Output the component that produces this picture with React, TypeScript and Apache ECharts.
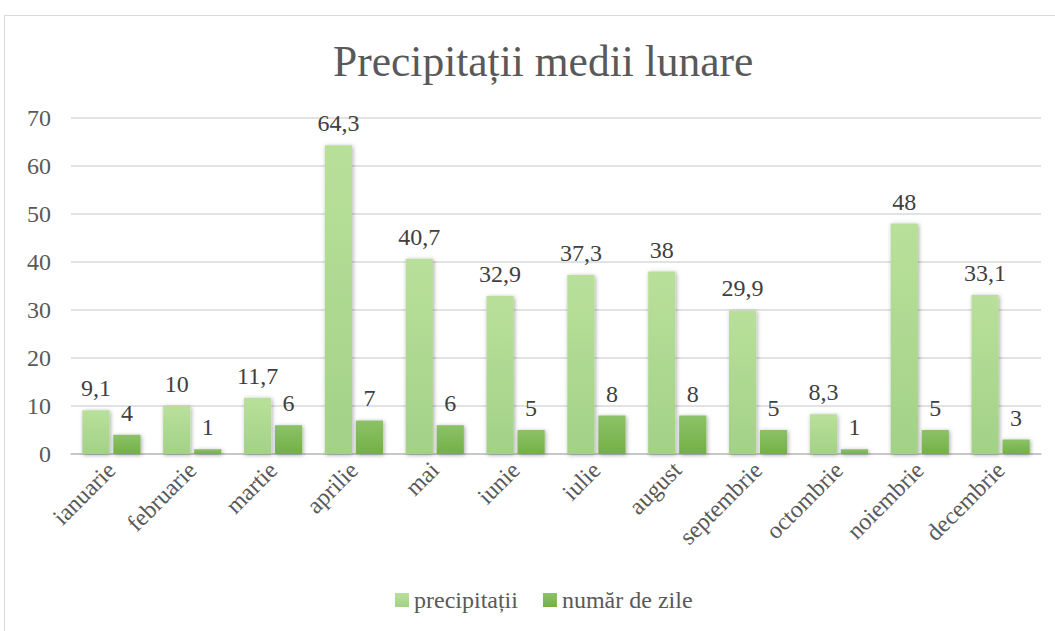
import React, { useEffect, useRef } from "react";
import * as echarts from "echarts";

const categories = ["ianuarie", "februarie", "martie", "aprilie", "mai", "iunie", "iulie", "august", "septembrie", "octombrie", "noiembrie", "decembrie"];
const precipitatii = [9.1, 10, 11.7, 64.3, 40.7, 32.9, 37.3, 38, 29.9, 8.3, 48, 33.1];
const numarZile = [4, 1, 6, 7, 6, 5, 8, 8, 5, 1, 5, 3];

const fmt = (v: number) => String(v).replace(".", ",");

export default function App() {
  const ref = useRef<HTMLDivElement>(null);
  useEffect(() => {
    const chart = echarts.init(ref.current!, null, { renderer: "svg" });
    const font = "Liberation Serif";
    const shadow = { shadowColor: "rgba(0,0,0,0.35)", shadowBlur: 4, shadowOffsetX: 1, shadowOffsetY: 1 };
    const labelStyle = { show: true, position: "top", distance: 10, fontFamily: font, fontSize: 24, color: "#404040", formatter: (p: any) => fmt(p.value) };
    chart.setOption({
      animation: false,
      backgroundColor: "#ffffff",
      textStyle: { fontFamily: font },
      graphic: [
        { type: "rect", shape: { x: 4.5, y: 15.5, width: 1100, height: 700 }, style: { fill: "none", stroke: "#d9d9d9", lineWidth: 1 } },
      ],
      title: {
        text: "Precipitații medii lunare",
        left: 328,
        top: 34,
        textStyle: { fontFamily: font, fontSize: 43.5, fontWeight: "normal", color: "#595959" },
      },
      legend: {
        bottom: 14,
        left: 390,
        itemWidth: 14,
        itemHeight: 14,
        itemGap: 25,
        icon: "rect",
        textStyle: { fontFamily: font, fontSize: 24, color: "#595959" },
      },
      grid: { left: 71, right: 14, top: 118, bottom: 177 },
      xAxis: {
        type: "category",
        data: categories,
        axisTick: { show: false },
        axisLine: { lineStyle: { color: "#bfbfbf", width: 1.5 } },
        axisLabel: { rotate: 45, fontFamily: font, fontSize: 24, color: "#595959", margin: 12 },
      },
      yAxis: {
        type: "value",
        min: 0,
        max: 70,
        interval: 10,
        axisLine: { show: false },
        axisTick: { show: false },
        axisLabel: { fontFamily: font, fontSize: 24, color: "#595959", margin: 20 },
        splitLine: { lineStyle: { color: "#d9d9d9", width: 1.5 } },
      },
      series: [
        {
          name: "precipitații",
          type: "bar",
          data: precipitatii,
          barGap: "14%",
          barCategoryGap: "28%",
          itemStyle: {
            color: new echarts.graphic.LinearGradient(0, 0, 0, 1, [
              { offset: 0, color: "#b9e09a" },
              { offset: 1, color: "#a3d188" },
            ]),
            ...shadow,
          },
          label: labelStyle,
        },
        {
          name: "număr de zile",
          type: "bar",
          data: numarZile,
          itemStyle: {
            color: new echarts.graphic.LinearGradient(0, 0, 0, 1, [
              { offset: 0, color: "#8cc268" },
              { offset: 1, color: "#73b045" },
            ]),
            ...shadow,
          },
          label: labelStyle,
        },
      ],
    });
    return () => chart.dispose();
  }, []);
  return <div ref={ref} style={{ position: "fixed", left: 0, top: 0, width: 1055, height: 631 }} />;
}
